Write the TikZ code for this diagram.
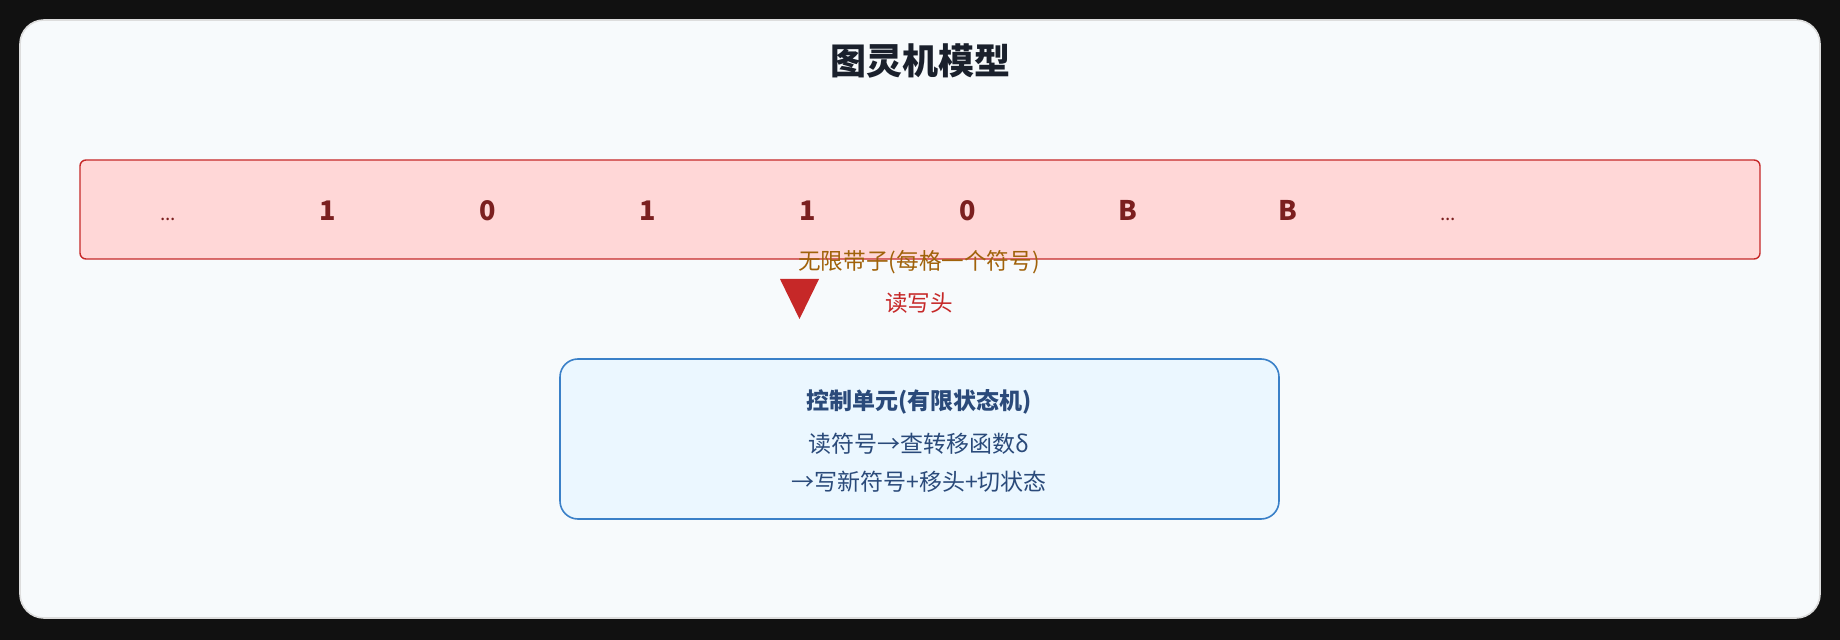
\documentclass[tikz,border=0pt]{standalone}
\usepackage{fontspec}
\setmainfont{Noto Sans CJK SC}
\usetikzlibrary{positioning}

\definecolor{pagebg}{HTML}{111111}
\definecolor{cardbg}{HTML}{F7FAFC}
\definecolor{cardline}{HTML}{DDDDDD}
\definecolor{tapefill}{HTML}{FFD7D7}
\definecolor{tapeline}{HTML}{C62828}
\definecolor{symtext}{HTML}{7B1F1F}
\definecolor{tapelabel}{HTML}{A0620A}
\definecolor{headred}{HTML}{C62828}
\definecolor{ctrlfill}{HTML}{EBF7FF}
\definecolor{ctrlline}{HTML}{3A80C8}
\definecolor{ctrltext}{HTML}{2A4A7A}
\definecolor{titletext}{HTML}{1A202C}

\begin{document}
\begin{tikzpicture}[
		x=0.5pt,y=-0.5pt,
		card/.style={draw=cardline,fill=cardbg,line width=0.8pt,rounded corners=12pt},
		tape/.style={draw=tapeline,fill=tapefill,line width=0.7pt,rectangle,rounded corners=3pt,minimum width=840pt,minimum height=49.5pt,inner sep=0pt},
		cell/.style={text=symtext,font=\fontsize{13.5pt}{16pt}\selectfont\bfseries,minimum width=80pt,inner sep=0pt,outer sep=0pt,text height=10pt,text depth=0pt},
		dots/.style={cell,font=\fontsize{9.5pt}{12pt}\selectfont},
		ctrl/.style={draw=ctrlline,fill=ctrlfill,line width=0.8pt,rectangle,rounded corners=9pt,minimum width=359.5pt,minimum height=80pt,inner sep=0pt},
		ctrltxt/.style={text=ctrltext,font=\fontsize{11.5pt}{14pt}\selectfont,inner sep=0pt}
	]
		\useasboundingbox (0,0) rectangle (1840,640);
		\fill [pagebg] (0,0) rectangle (1840,640);
		\draw [card] (20,20) rectangle (1820,618);

		\node [text=titletext,font=\fontsize{18pt}{22pt}\selectfont\bfseries] (title) at (920,61) {图灵机模型};

		% tape
		\node [tape] (tape) at (920,209.5) {};
		\node [dots] (c1) at (168,211) {...};
		\node [cell,right=0pt of c1] (c2) {1};
		\node [cell,right=0pt of c2] (c3) {0};
		\node [cell,right=0pt of c3] (c4) {1};
		\node [cell,right=0pt of c4] (c5) {1};
		\node [cell,right=0pt of c5] (c6) {0};
		\node [cell,right=0pt of c6] (c7) {B};
		\node [cell,right=0pt of c7] (c8) {B};
		\node [dots,right=0pt of c8] (c9) {...};
		\node [text=tapelabel,font=\fontsize{11.3pt}{14pt}\selectfont,inner sep=0pt] (tapelbl) at (919,262) {无限带子(每格一个符号)};

		% head
		\fill [headred] (780,279) -- (819,279) -- (799.5,319) -- cycle;
		\node [text=headred,font=\fontsize{11.3pt}{14pt}\selectfont,inner sep=0pt] (head) at (919,303) {读写头};

		% control unit
		\node [ctrl] (ctrl) at (919.5,439) {};
		\node [ctrltxt,font=\fontsize{11.5pt}{14pt}\selectfont\bfseries] (ctitle) at (919,402) {控制单元(有限状态机)};
		\node [ctrltxt] (cline1) at (919,444) {读符号→查转移函数δ};
		\node [ctrltxt] (cline2) at (919,482) {→写新符号+移头+切状态};
	\end{tikzpicture}
\end{document}
